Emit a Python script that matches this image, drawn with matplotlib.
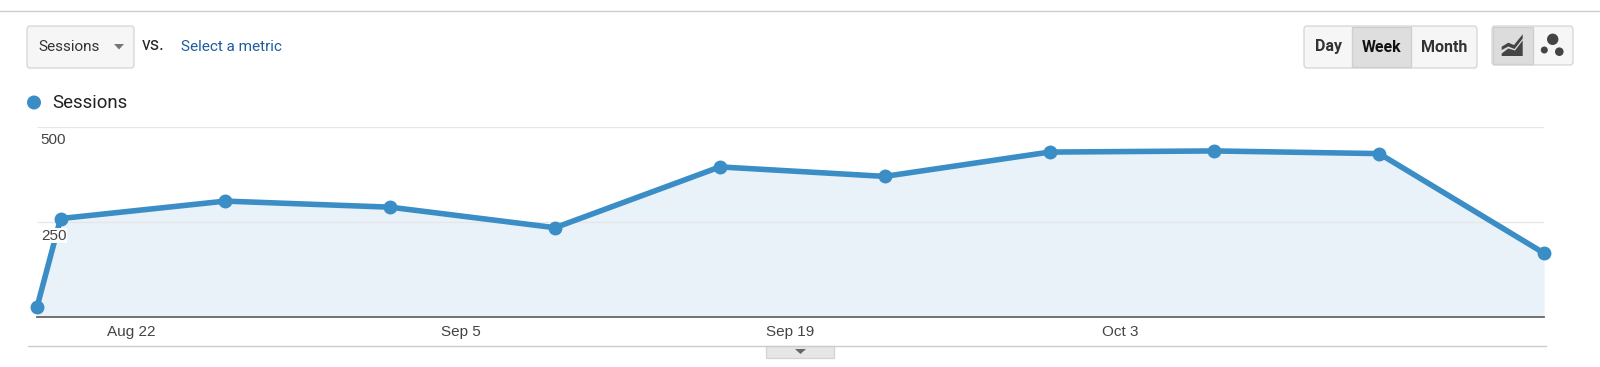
import matplotlib
matplotlib.use("Agg")
import pandas as pd
import matplotlib.pyplot as plt
from matplotlib.patches import FancyBboxPatch, Polygon, Circle, Rectangle
from matplotlib.transforms import ScaledTranslation

W, H = 1600, 367

week_dates = ["2018-08-18", "2018-08-19", "2018-08-26", "2018-09-02", "2018-09-09", "2018-09-16",
              "2018-09-23", "2018-09-30", "2018-10-07", "2018-10-14", "2018-10-21"]
sessions = [26, 259, 305, 289, 235, 395, 370, 434, 437, 430, 168]
x_tick_dates = ["2018-08-22", "2018-09-05", "2018-09-19", "2018-10-03"]
x_tick_labels = ["Aug 22", "Sep 5", "Sep 19", "Oct 3"]
y_ticks = [250, 500]

blue = "#3a8dc5"
fill = "#e9f1f9"
roboto = "Roboto"
plt.rcParams["font.family"] = ["Liberation Sans", "DejaVu Sans"]

fig = plt.figure(figsize=(W / 100, H / 100), dpi=100)

# chart
left, right, top, bottom = 37, 1544, 127, 317
ax = fig.add_axes([left / W, 1 - bottom / H, (right - left) / W, (bottom - top) / H])
dates = pd.to_datetime(week_dates)
ax.fill_between(dates, sessions, 0, color=fill, lw=0, zorder=1)
# grid drawn by hand so it stays under the line while the tick labels sit on top of it
ax.hlines(y_ticks, 0, 1, transform=ax.get_yaxis_transform(), color="#e4e6e8", lw=0.9, zorder=1.5)
ax.plot(dates, sessions, color=blue, lw=4, marker="o", ms=9, clip_on=False, zorder=2,
        solid_joinstyle="round")
ax.set_axisbelow(False)
ax.set_xlim(dates[0], dates[-1])
ax.set_ylim(0, 500)
ax.set_xticks(pd.to_datetime(x_tick_dates))
ax.set_xticklabels(x_tick_labels, fontsize=11, color="#444444")
ax.set_yticks(y_ticks)
ax.set_yticklabels([str(v) for v in y_ticks], fontsize=11, color="#444444", ha="left",
                   bbox=dict(facecolor="white", edgecolor="none", pad=0.6))
ax.tick_params(axis="x", length=0, pad=6)
ax.tick_params(axis="y", length=0, pad=-2)
offset = ScaledTranslation(1 / 100, -12 / 100, fig.dpi_scale_trans)
for lab in ax.get_yticklabels():
    lab.set_transform(lab.get_transform() + offset)
for s in ["top", "left", "right"]:
    ax.spines[s].set_visible(False)
ax.spines["bottom"].set_color("#666666")
ax.spines["bottom"].set_linewidth(1.3)
ax.patch.set_alpha(0)

# page furniture, in pixel coordinates
ui = fig.add_axes([0, 0, 1, 1], zorder=-1)
ui.set_xlim(0, W)
ui.set_ylim(H, 0)
ui.axis("off")


def box(x0, y0, x1, y1, face="#f6f6f6", edge="#d4d4d4"):
    ui.add_patch(FancyBboxPatch((x0 + 3, y0 + 3), x1 - x0 - 6, y1 - y0 - 6, boxstyle="round,pad=3",
                                fc=face, ec=edge, lw=0.9))


ui.plot([0, W], [10.5, 10.5], color="#cccccc", lw=1)
ui.plot([28, 1546], [346, 346], color="#cccccc", lw=1)

# metric dropdown
box(27, 26, 134, 68)
ui.text(38, 47, "Sessions", fontsize=11, family=roboto, color="#333333", va="center")
ui.add_patch(Polygon([(114, 44), (124, 44), (119, 49.5)], fc="#777777", ec="none"))
ui.text(142, 45, "vs.", fontsize=13, family=roboto, color="#222222", va="center")
ui.text(181, 47, "Select a metric", fontsize=11, family=roboto, color="#1f5c9e", va="center")

# legend
ui.add_patch(Circle((34, 102.5), 7, fc=blue, ec="none"))
ui.text(52.5, 103.5, "Sessions", fontsize=13.4, family=roboto, color="#222222", va="center")

# day / week / month
box(1304, 26, 1477, 68)
ui.add_patch(Rectangle((1352, 27), 59, 40, fc="#dedede", ec="#cfcfcf", lw=1))
ui.text(1328, 47, "Day", fontsize=11.5, family=roboto, weight="bold", color="#333333", ha="center", va="center")
ui.text(1381.5, 47, "Week", fontsize=11.4, family=roboto, weight="bold", color="#111111", ha="center", va="center")
ui.text(1444, 47, "Month", fontsize=11.5, family=roboto, weight="bold", color="#333333", ha="center", va="center")

# chart type toggle
box(1492, 26, 1573, 65)
ui.add_patch(Rectangle((1493, 27), 40, 37, fc="#dcdcdc", ec="#cfcfcf", lw=1))
ui.add_patch(Polygon([(1501.7, 46.7), (1508.3, 42.7), (1514, 45), (1522.7, 34.3), (1522.7, 38.5),
                      (1514.5, 49), (1508.3, 46.5), (1501.7, 50)], fc="#444444", ec="none"))
ui.add_patch(Polygon([(1501.7, 53.5), (1508.3, 48.5), (1515, 50.5), (1522.7, 40.5), (1522.7, 56),
                      (1501.7, 56)], fc="#444444", ec="none"))
ui.add_patch(Circle((1552.7, 39.3), 5.7, fc="#444444", ec="none"))
ui.add_patch(Circle((1544.3, 50), 3.5, fc="#444444", ec="none"))
ui.add_patch(Circle((1559.3, 51.7), 4.3, fc="#444444", ec="none"))

# collapse tab
ui.add_patch(Rectangle((766, 346), 68, 12, fc="#e6e6e6", ec="#d4d4d4", lw=0.9))
ui.add_patch(Polygon([(795, 349), (806, 349), (800.5, 354)], fc="#666666", ec="none"))

plt.savefig("out.png", dpi=100)
